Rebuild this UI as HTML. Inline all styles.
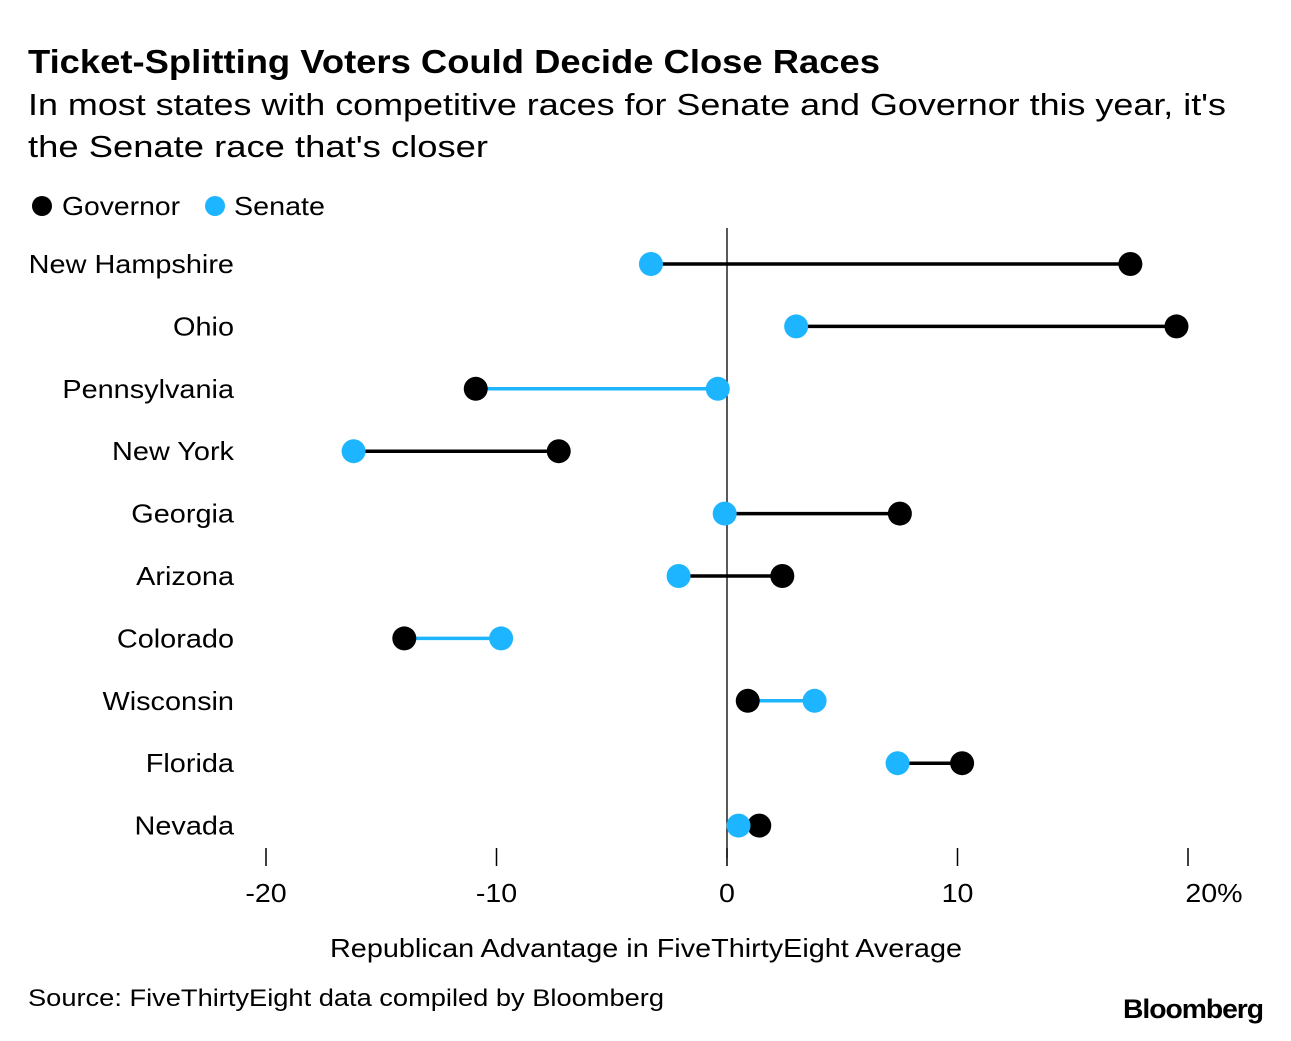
<!DOCTYPE html>
<html><head><meta charset="utf-8"><style>
body{margin:0;background:#fff;width:1291px;height:1036px;overflow:hidden;font-family:"Liberation Sans",sans-serif;}
svg text{font-family:"Liberation Sans",sans-serif;}
</style></head><body>
<svg id="chart" width="1291" height="1036" xmlns="http://www.w3.org/2000/svg">
<text x="28" y="73" font-size="33" font-weight="bold" fill="#000" textLength="852" lengthAdjust="spacingAndGlyphs">Ticket-Splitting Voters Could Decide Close Races</text>
<text x="28" y="115" font-size="31" fill="#000" textLength="1198" lengthAdjust="spacingAndGlyphs">In most states with competitive races for Senate and Governor this year, it's</text>
<text x="28" y="157" font-size="31" fill="#000" textLength="460" lengthAdjust="spacingAndGlyphs">the Senate race that's closer</text>
<g>
<circle cx="42" cy="206" r="10" fill="#000"/>
<text x="62" y="215" font-size="26" textLength="118" lengthAdjust="spacingAndGlyphs">Governor</text>
<circle cx="215" cy="206" r="10" fill="#1db5ff"/>
<text x="234" y="215" font-size="26" textLength="91" lengthAdjust="spacingAndGlyphs">Senate</text>
</g>
<g id="plot"></g>
<text x="330" y="957" font-size="26" textLength="632" lengthAdjust="spacingAndGlyphs">Republican Advantage in FiveThirtyEight Average</text>
<text x="28" y="1006" font-size="24" textLength="636" lengthAdjust="spacingAndGlyphs">Source: FiveThirtyEight data compiled by Bloomberg</text>
<text x="1123" y="1018" font-size="27" font-weight="bold" letter-spacing="-1" textLength="140" lengthAdjust="spacingAndGlyphs">Bloomberg</text>
</svg>
<script>
const states=["New Hampshire","Ohio","Pennsylvania","New York","Georgia","Arizona","Colorado","Wisconsin","Florida","Nevada"];
const governor=[17.5,19.5,-10.9,-7.3,7.5,2.4,-14.0,0.9,10.2,1.4];
const senate=[-3.3,3.0,-0.4,-16.2,-0.1,-2.1,-9.8,3.8,7.4,0.5];
const ticks=[-20,-10,0,10,20];
const tickLabels=["-20","-10","0","10","20%"];
const NS="http://www.w3.org/2000/svg";
const g=document.getElementById('plot');
const x=v=>727+v*23.05;
const y=i=>264+i*62.4;
const BLUE="#1db5ff";
function mk(t,a){const e=document.createElementNS(NS,t);for(const k in a)e.setAttribute(k,a[k]);g.appendChild(e);return e;}
function widen(e,s){const w=e.getComputedTextLength();e.setAttribute('textLength',w*s);e.setAttribute('lengthAdjust','spacingAndGlyphs');}
const zl=mk('line',{x1:x(0),x2:x(0),y1:228,y2:858,stroke:'#000','stroke-width':1.3});


ticks.forEach((t,i)=>{
const tk=mk('line',{x1:x(t),x2:x(t),y1:848,y2:866,stroke:'#000','stroke-width':1.5});


const tl=mk('text',{x:x(t)+(i==ticks.length-1?26:0),y:902,'font-size':26,'text-anchor':'middle'});
tl.textContent=tickLabels[i];


widen(tl,1.1);
});
states.forEach((s,i)=>{
const lb=mk('text',{x:234,y:y(i)+9,'font-size':26,'text-anchor':'end'});
lb.textContent=s;


widen(lb,1.11);
const gv=governor[i],sv=senate[i];
const ln=mk('line',{x1:x(gv),x2:x(sv),y1:y(i),y2:y(i),stroke:gv>sv?'#000':BLUE,'stroke-width':3.5});


const cg=mk('circle',{cx:x(gv),cy:y(i),r:12,fill:'#000'});


const cs=mk('circle',{cx:x(sv),cy:y(i),r:12,fill:BLUE});


});
</script>
</body></html>
